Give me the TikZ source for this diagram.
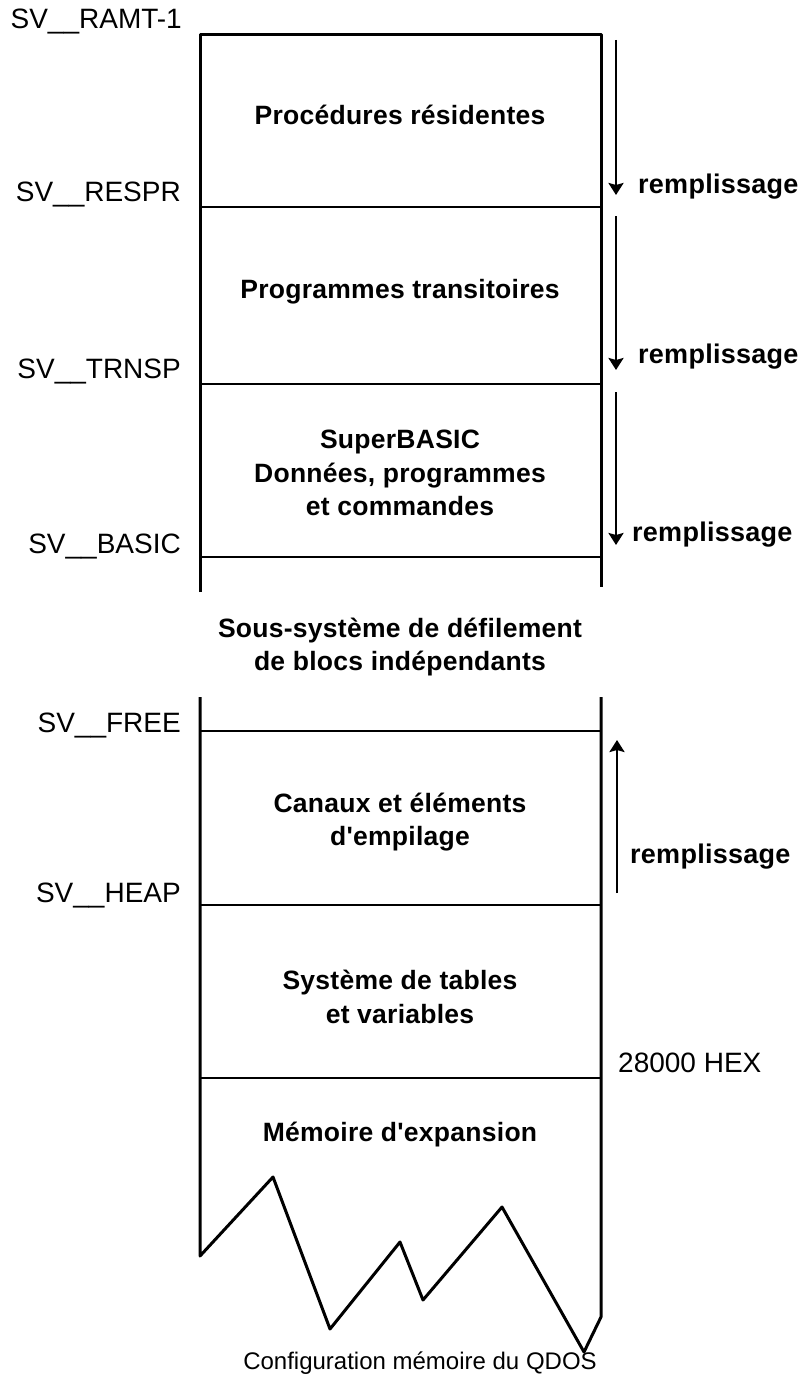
\documentclass[tikz,border=0pt]{standalone}
\usepackage{fontspec}
\setmainfont{Liberation Sans}
\newfontfamily\areafont[LetterSpace=1]{Liberation Sans}
\usetikzlibrary{arrows.meta,positioning}
\tikzset{
  addr/.style={anchor=east,inner sep=0pt,font=\fontsize{28}{33}\selectfont},
  area/.style={align=center,inner sep=0pt,font=\areafont\bfseries\fontsize{26.5}{33.5}\selectfont},
  filllabel/.style={anchor=west,inner sep=0pt,font=\areafont\bfseries\fontsize{27}{30}\selectfont},
  wall/.style={line width=3pt,line join=round},
  bound/.style={line width=2.6pt},
  fillarrow/.style={-{Stealth[length=12pt,width=15pt,inset=2pt]},line width=2.6pt}
}
\begin{document}
\begin{tikzpicture}[x=1pt,y=-1pt]
  \useasboundingbox (0,0) rectangle (803,1383);

  % upper block
  \draw[wall] (200,592) -- (200,35) -- (601,35) -- (601,587);
  \foreach \y in {207,384,557}
    \draw[bound] (200,\y) -- (601,\y);

  % lower block with torn bottom
  \draw[wall] (200,697) -- (200,1256) -- (273,1177) -- (330,1329) -- (400,1242)
    -- (423,1300) -- (502,1207) -- (584,1352) -- (601,1317) -- (601,697);
  \foreach \y in {731,905,1078}
    \draw[bound] (200,\y) -- (601,\y);

  % addresses
  \node[addr] (ramt) at (182,22) {SV\_\_RAMT-1};
  \node[addr] (respr) at (181,195) {SV\_\_RESPR};
  \node[addr] (trnsp) at (181,372) {SV\_\_TRNSP};
  \node[addr] (basic) at (181,547) {SV\_\_BASIC};
  \node[addr] (free) at (181,725) {SV\_\_FREE};
  \node[addr] (heap) at (181,895) {SV\_\_HEAP};
  \node[addr,anchor=west] (hex) at (618,1063) {28000 HEX};

  % areas
  \node[area] (resid) at (400,115) {Procédures résidentes};
  \node[area] (trans) at (400,292) {Programmes transitoires};
  \node[area] (sbasic) at (400,473) {SuperBASIC\\Données, programmes\\et commandes};
  \node[area] (scroll) at (400,647) {Sous-système de défilement\\de blocs indépendants};
  \node[area] (chan) at (400,822) {Canaux et éléments\\d'empilage};
  \node[area] (tables) at (400,997) {Système de tables\\et variables};
  \node[area] (expan) at (400,1135) {Mémoire d'expansion};

  % filling directions
  \foreach \t/\b/\n in {40/195/1,216/370/2,392/545/3}{
    \coordinate (d\n s) at (616,\t);
    \coordinate (d\n e) at (616,\b);
    \draw[fillarrow] (d\n s) -- (d\n e);
  }
  \coordinate (us) at (617,893);
  \coordinate (ue) at (617,740);
  \draw[fillarrow] (us) -- (ue);

  \node[filllabel] (fill1) at (638,187) {remplissage};
  \node[filllabel] (fill2) at (638,357) {remplissage};
  \node[filllabel] (fill3) at (632,535) {remplissage};
  \node[filllabel] (fill4) at (630,857) {remplissage};

  \node[font=\fontsize{24}{28}\selectfont,inner sep=0pt] (caption) at (420,1363) {Configuration mémoire du QDOS};
\end{tikzpicture}
\end{document}
